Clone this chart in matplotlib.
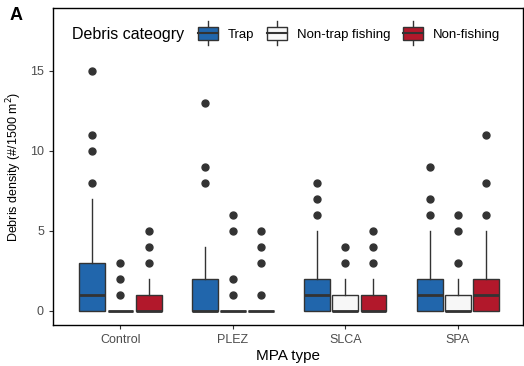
import matplotlib
matplotlib.use("Agg")
import matplotlib.pyplot as plt
from matplotlib.patches import Rectangle, Patch
from matplotlib.lines import Line2D
from matplotlib.legend_handler import HandlerBase

plt.rcParams['font.family'] = ['Liberation Sans', 'DejaVu Sans']

groups = ['Control', 'PLEZ', 'SLCA', 'SPA']
categories = ['Trap', 'Non-trap fishing', 'Non-fishing']
colors = ['#2166ac', '#f7f7f7', '#b2182b']

# box stats per category, per group
q1 = {'Trap': [0, 0, 0, 0], 'Non-trap fishing': [0, 0, 0, 0], 'Non-fishing': [0, 0, 0, 0]}
med = {'Trap': [1, 0, 1, 1], 'Non-trap fishing': [0, 0, 0, 0], 'Non-fishing': [0, 0, 0, 1]}
q3 = {'Trap': [3, 2, 2, 2], 'Non-trap fishing': [0, 0, 1, 1], 'Non-fishing': [1, 0, 1, 2]}
whishi = {'Trap': [7, 4, 5, 5], 'Non-trap fishing': [0, 0, 2, 2], 'Non-fishing': [2, 0, 2, 5]}
outliers = {
    'Trap': [[8, 10, 11, 15], [8, 9, 13], [6, 7, 8], [6, 7, 9]],
    'Non-trap fishing': [[1, 2, 3], [1, 2, 5, 6], [3, 4], [3, 5, 6]],
    'Non-fishing': [[3, 4, 5], [1, 3, 4, 5], [3, 4, 5], [6, 8, 11]],
}

fig = plt.figure(figsize=(5.24, 3.66), dpi=100)
ax = fig.add_axes([53/524, 41/366, 470/524, 317/366])

edge = '#333333'
for j, cat in enumerate(categories):
    stats = []
    for i, g in enumerate(groups):
        stats.append(dict(q1=q1[cat][i], med=med[cat][i], q3=q3[cat][i],
                          whislo=q1[cat][i], whishi=whishi[cat][i],
                          fliers=outliers[cat][i], label=g))
    pos = [i + 1 + (j - 1) * 0.25 for i in range(len(groups))]
    ax.bxp(stats, positions=pos, widths=0.23, patch_artist=True, showcaps=False,
           boxprops=dict(facecolor=colors[j], edgecolor=edge, linewidth=1.0),
           medianprops=dict(color=edge, linewidth=2.0),
           whiskerprops=dict(color=edge, linewidth=1.0),
           flierprops=dict(marker='o', markerfacecolor=edge, markeredgecolor=edge,
                           markersize=5),
           manage_ticks=False)


class BoxKey(HandlerBase):
    def create_artists(self, legend, orig_handle, xdescent, ydescent, width,
                       height, fontsize, trans):
        cx = width / 2 - xdescent
        bw = width * 0.95
        bh = height * 1.1
        y0 = height / 2 - ydescent - bh / 2
        line = Line2D([cx, cx], [y0 - 4, y0 + bh + 4], color=edge, lw=1.0, transform=trans)
        rect = Rectangle((cx - bw / 2, y0), bw, bh, facecolor=orig_handle.get_facecolor(),
                         edgecolor=edge, lw=1.0, transform=trans)
        medl = Line2D([cx - bw / 2, cx + bw / 2], [y0 + bh / 2] * 2, color=edge,
                      lw=1.5, transform=trans)
        return [line, rect, medl]


handles = [Patch(facecolor=c) for c in colors]
ax.legend(handles, categories, ncol=3, loc='center left',
          bbox_to_anchor=(197/524, 1 - 34/366), bbox_transform=fig.transFigure,
          frameon=False, handler_map={Patch: BoxKey()}, fontsize=9.5,
          handlelength=1.6, handleheight=1.0, handletextpad=0.7,
          columnspacing=0.95, borderpad=0, borderaxespad=0)
fig.text(72/524, 1 - 34/366, 'Debris cateogry', fontsize=11.5, va='center', ha='left')

ax.set_xlim(0.4, 4.58)
ax.set_ylim(-0.9, 18.92)
ax.set_xticks(range(1, 5))
ax.set_xticklabels(groups)
ax.set_yticks([0, 5, 10, 15])
ax.tick_params(colors='#333333', labelsize=9, length=3, labelcolor='#4d4d4d')
for s in ax.spines.values():
    s.set_color('black')
    s.set_linewidth(1.0)
ax.set_xlabel('MPA type', fontsize=11, labelpad=2)
ax.set_ylabel('Debris density (#/1500 m$^2$)', fontsize=9)
fig.text(10/524, 1 - 20/366, 'A', fontsize=13, fontweight='bold')

fig.savefig('out.png', dpi=100)
